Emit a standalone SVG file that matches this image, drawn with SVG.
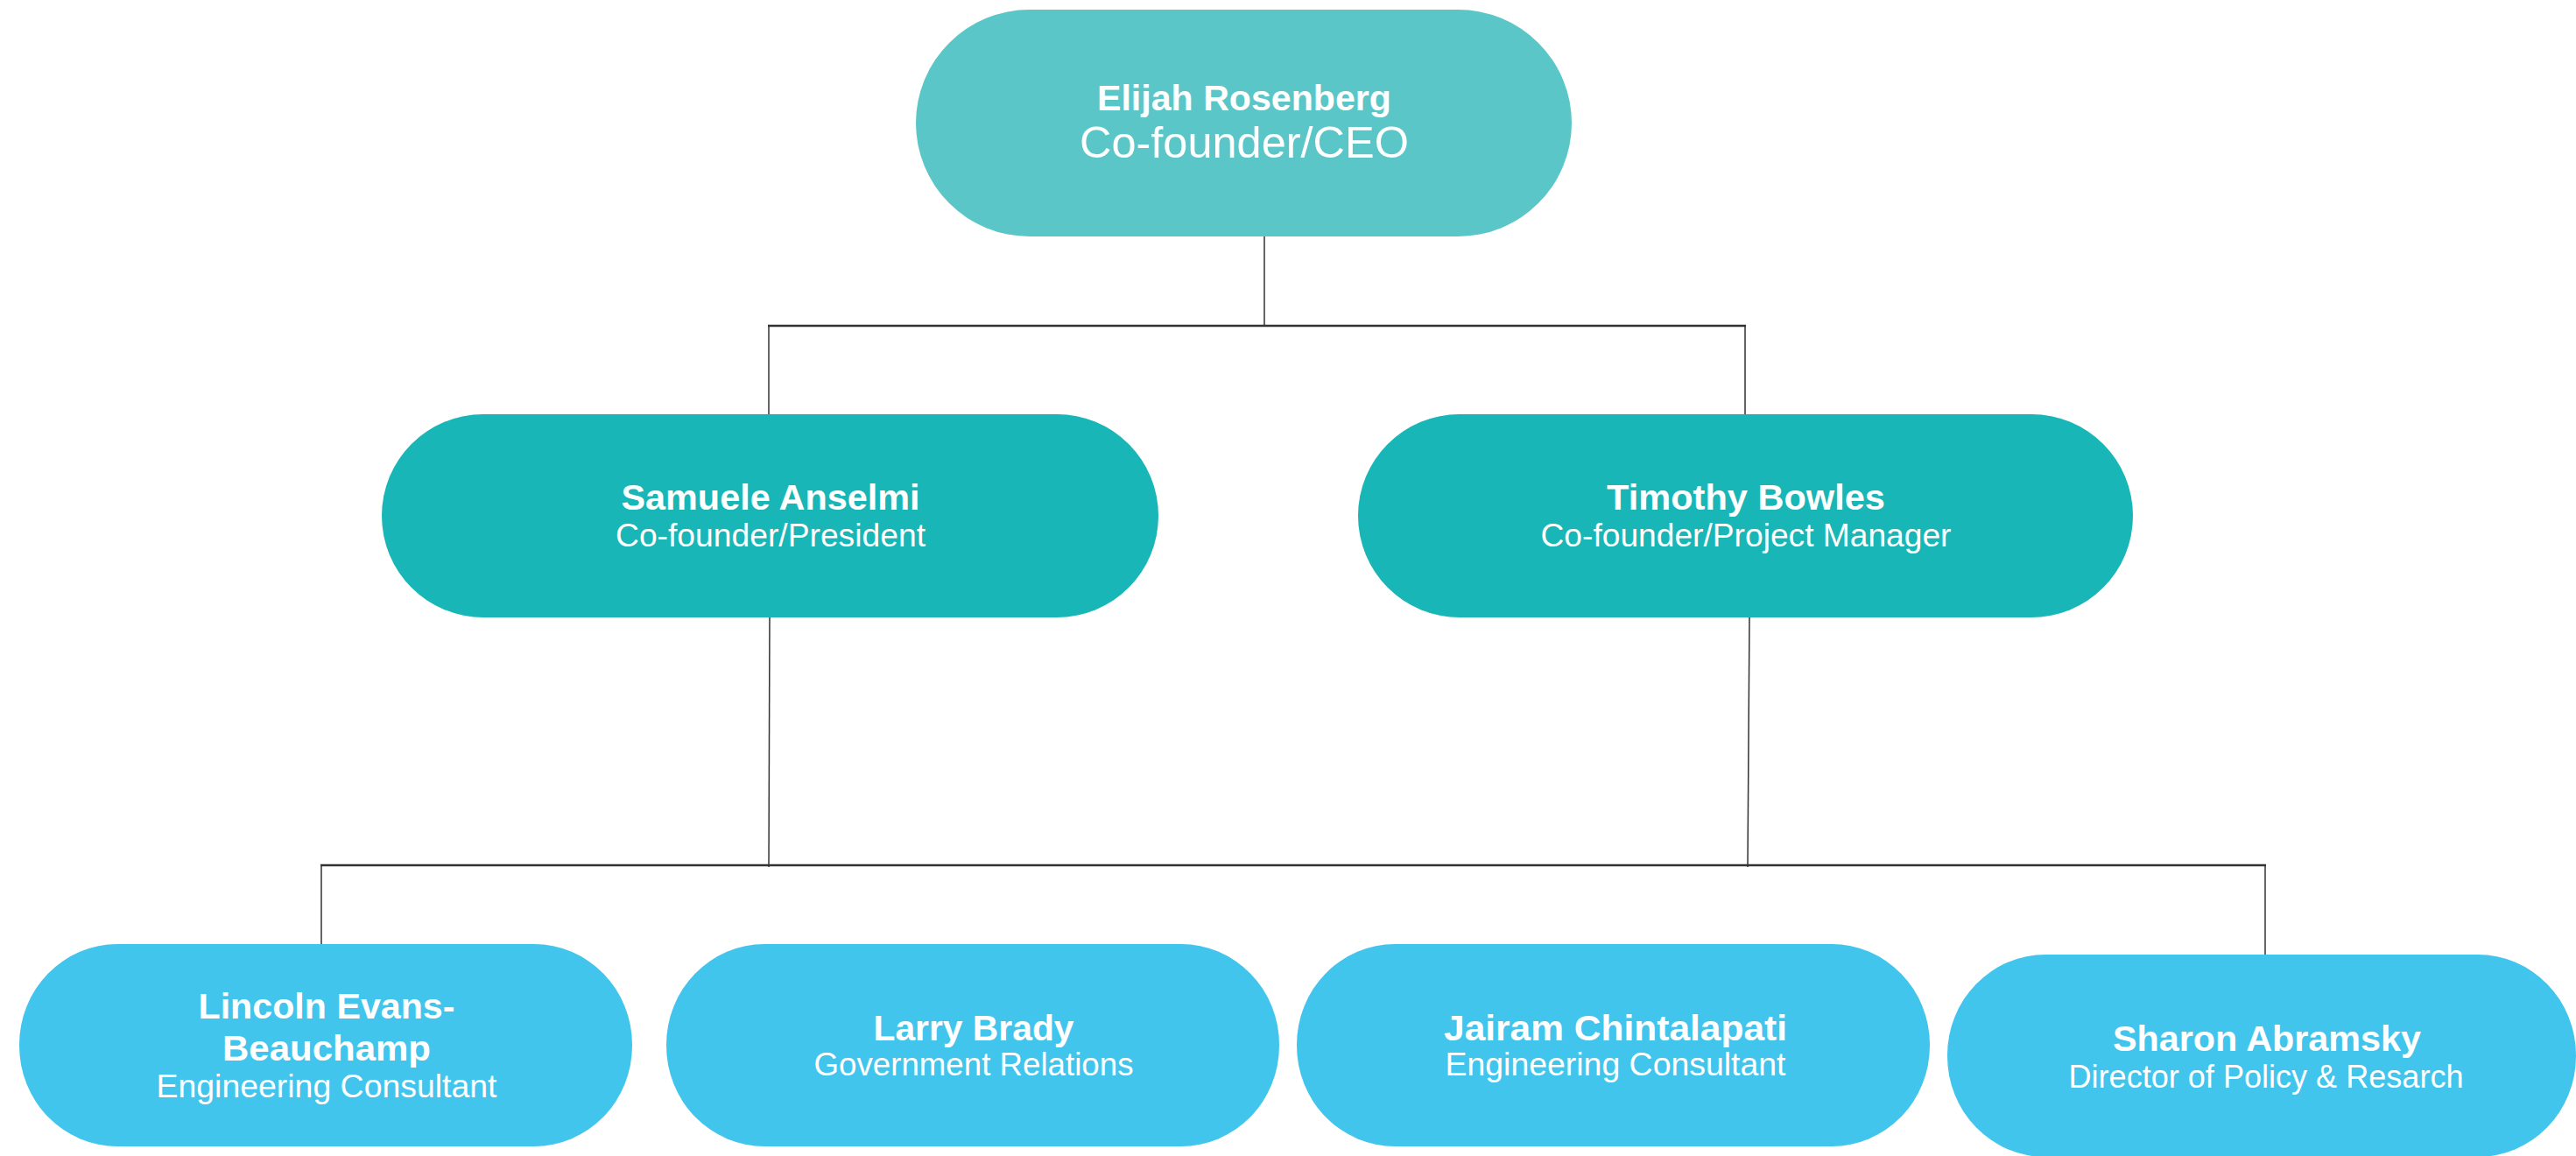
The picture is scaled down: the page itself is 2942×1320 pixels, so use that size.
<svg xmlns="http://www.w3.org/2000/svg" width="2942" height="1320" viewBox="0 0 2942 1320">
<style>
.t{font-family:"Liberation Sans",Arial,sans-serif;fill:#ffffff;text-anchor:middle}
.n{font-weight:700;font-size:41px}
.s{font-weight:400;font-size:37px}
.big{font-weight:400;font-size:50px}
.top{fill:#5BC6C7}
.mid{fill:#18B6B6}
.bot{fill:#42C5EC}
.c{stroke:#333333;fill:none}
.v{stroke-width:1.5}
.h{stroke-width:2.5}
</style>
<rect width="2942" height="1320" fill="#ffffff"/>
<g id="connectors">
<line class="c v" x1="1444" y1="268" x2="1444" y2="372"/>
<line class="c h" x1="877" y1="372" x2="1994" y2="372"/>
<line class="c v" x1="878" y1="372" x2="878" y2="474"/>
<line class="c v" x1="1993" y1="372" x2="1993" y2="474"/>
<line class="c v" x1="879" y1="704" x2="878" y2="990"/>
<line class="c v" x1="1998" y1="704" x2="1996" y2="990"/>
<line class="c h" x1="366" y1="988" x2="2588" y2="988"/>
<line class="c v" x1="367" y1="988" x2="367" y2="1079"/>
<line class="c v" x1="2587" y1="988" x2="2587" y2="1091"/>
</g>
<g id="ceo">
<rect class="top" x="1046" y="11" width="749" height="259" rx="130" ry="130"/>
<text class="t n" x="1421" y="126" textLength="336" lengthAdjust="spacingAndGlyphs">Elijah Rosenberg</text>
<text class="t big" x="1421" y="180" textLength="376" lengthAdjust="spacingAndGlyphs">Co-founder/CEO</text>
</g>
<g id="samuele">
<rect class="mid" x="436" y="473" width="887" height="232" rx="116" ry="116"/>
<text class="t n" x="880" y="582" textLength="341" lengthAdjust="spacingAndGlyphs">Samuele Anselmi</text>
<text class="t s" x="880" y="624" textLength="354" lengthAdjust="spacingAndGlyphs">Co-founder/President</text>
</g>
<g id="timothy">
<rect class="mid" x="1551" y="473" width="885" height="232" rx="116" ry="116"/>
<text class="t n" x="1994" y="582" textLength="318" lengthAdjust="spacingAndGlyphs">Timothy Bowles</text>
<text class="t s" x="1994" y="624" textLength="469" lengthAdjust="spacingAndGlyphs">Co-founder/Project Manager</text>
</g>
<g id="lincoln">
<rect class="bot" x="22" y="1078" width="700" height="231" rx="112" ry="115"/>
<text class="t n" x="373" y="1163" textLength="293" lengthAdjust="spacingAndGlyphs">Lincoln Evans-</text>
<text class="t n" x="373" y="1211" textLength="238" lengthAdjust="spacingAndGlyphs">Beauchamp</text>
<text class="t s" x="373" y="1253" textLength="389" lengthAdjust="spacingAndGlyphs">Engineering Consultant</text>
</g>
<g id="larry">
<rect class="bot" x="761" y="1078" width="700" height="231" rx="112" ry="115"/>
<text class="t n" x="1112" y="1188" textLength="229" lengthAdjust="spacingAndGlyphs">Larry Brady</text>
<text class="t s" x="1112" y="1228" textLength="365" lengthAdjust="spacingAndGlyphs">Government Relations</text>
</g>
<g id="jairam">
<rect class="bot" x="1481" y="1078" width="723" height="231" rx="112" ry="115"/>
<text class="t n" x="1845" y="1188" textLength="392" lengthAdjust="spacingAndGlyphs">Jairam Chintalapati</text>
<text class="t s" x="1845" y="1228" textLength="389" lengthAdjust="spacingAndGlyphs">Engineering Consultant</text>
</g>
<g id="sharon">
<rect class="bot" x="2224" y="1090" width="718" height="231" rx="112" ry="115"/>
<text class="t n" x="2589" y="1200" textLength="352" lengthAdjust="spacingAndGlyphs">Sharon Abramsky</text>
<text class="t s" x="2588" y="1242" textLength="451" lengthAdjust="spacingAndGlyphs">Director of Policy &amp; Resarch</text>
</g>
</svg>
